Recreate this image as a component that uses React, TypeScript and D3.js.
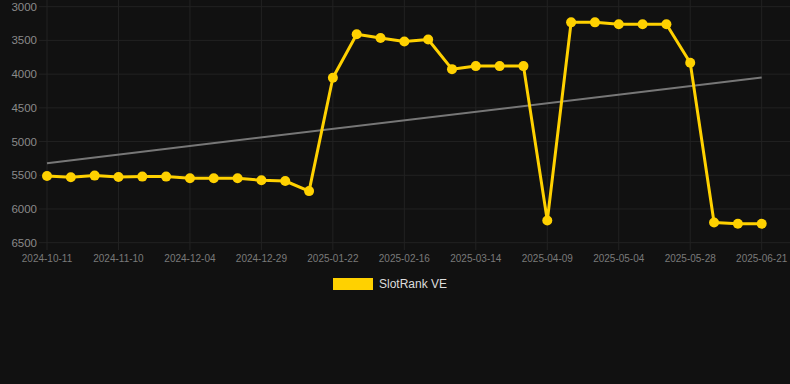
import React from "react";
import * as d3 from "d3";

const dates = [
  "2024-10-11", "2024-10-21", "2024-10-31", "2024-11-10", "2024-11-18", "2024-11-26",
  "2024-12-04", "2024-12-12", "2024-12-20", "2024-12-29", "2025-01-06", "2025-01-14",
  "2025-01-22", "2025-01-30", "2025-02-08", "2025-02-16", "2025-02-25", "2025-03-06",
  "2025-03-14", "2025-03-23", "2025-04-01", "2025-04-09", "2025-04-17", "2025-04-26",
  "2025-05-04", "2025-05-12", "2025-05-20", "2025-05-28", "2025-06-05", "2025-06-13",
  "2025-06-21",
];

const rankValues = [
  5510, 5530, 5505, 5525, 5520, 5520, 5545, 5545, 5545, 5575, 5585, 5735,
  4053, 3409, 3463, 3517, 3487, 3926, 3881, 3881, 3881, 6171, 3232, 3232,
  3261, 3261, 3261, 3832, 6200, 6220, 6220,
];

const trendValues = [5320, 4050];
const yTicks = [3000, 3500, 4000, 4500, 5000, 5500, 6000, 6500];
const seriesName = "SlotRank VE";

export default function App() {
  const W = 790;
  const H = 384;
  const left = 47;
  const right = 761.7;
  const top = 6.7;
  const bottom = 242.7;

  const x = d3.scalePoint<string>().domain(dates).range([left, right]);
  const y = d3.scaleLinear().domain([3000, 6500]).range([top, bottom]);

  const line = d3
    .line<number>()
    .x((_, i) => x(dates[i]) as number)
    .y((d) => y(d));

  const tickDates = dates.filter((_, i) => i % 3 === 0);
  const gold = "#FFD100";

  return (
    <svg
      width={W}
      height={H}
      style={{ position: "absolute", left: 0, top: 0, background: "#111111", fontFamily: "Liberation Sans, Arial, sans-serif" }}
    >
      <rect x={0} y={0} width={W} height={H} fill="#111111" />
      {yTicks.map((t) => (
        <g key={t}>
          <line x1={39} x2={W} y1={y(t)} y2={y(t)} stroke="#222222" strokeWidth={1} />
          <text x={37} y={y(t)} dy="0.35em" textAnchor="end" fontSize={11.5} fill="#8a8a8a">
            {t}
          </text>
        </g>
      ))}
      {tickDates.map((d) => (
        <g key={d}>
          <line x1={x(d)} x2={x(d)} y1={0} y2={250} stroke="#222222" strokeWidth={1} />
          <text x={x(d)} y={262} textAnchor="middle" fontSize={10} fill="#7a7a7a">
            {d}
          </text>
        </g>
      ))}
      <line
        x1={x(dates[0])}
        x2={x(dates[dates.length - 1])}
        y1={y(trendValues[0])}
        y2={y(trendValues[1])}
        stroke="#777777"
        strokeWidth={2}
      />
      <path d={line(rankValues) || ""} fill="none" stroke={gold} strokeWidth={3} strokeLinejoin="round" />
      {rankValues.map((v, i) => (
        <circle key={i} cx={x(dates[i])} cy={y(v)} r={5} fill={gold} />
      ))}
      <rect x={333} y={278} width={40} height={12} fill={gold} />
      <text x={379} y={284} dy="0.35em" fontSize={12} fill="#dddddd">
        {seriesName}
      </text>
    </svg>
  );
}
